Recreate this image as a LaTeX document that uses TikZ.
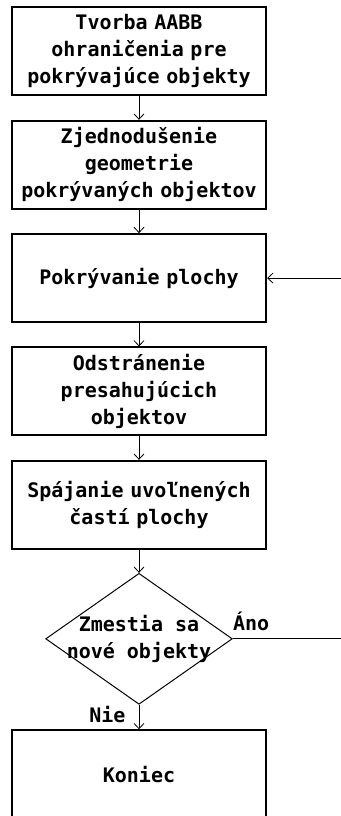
\documentclass[tikz,border=0pt]{standalone}
\usepackage{fontspec}
\setmonofont{DejaVu Sans Mono}
\usetikzlibrary{arrows.meta,shapes.geometric,positioning}

\begin{document}
\begin{tikzpicture}
        \tikzstyle{krok} = [rectangle, draw=black, line width=1.5pt, minimum width=190.5pt, minimum height=66pt, text width=184pt, align=center, font=\ttfamily\bfseries\fontsize{15}{20.25}\selectfont]
        \tikzstyle{rozhodnutie} = [diamond, draw=black, line width=0.75pt, minimum width=140pt, minimum height=98.25pt, inner sep=0pt]
        \tikzstyle{popis} = [inner sep=0pt, font=\ttfamily\bfseries\fontsize{15}{20.25}\selectfont]
        \tikzstyle{sipka} = [-{Straight Barb[length=4pt,width=7.5pt]}, line width=0.6pt]
        \useasboundingbox (0,0) rectangle (255.75pt,-612pt);

        \node (tvorba) [krok] at (104.25pt,-38.6pt) {Tvorba AABB ohraničenia pre pokrývajúce objekty};
        \node (zjednodusenie) [krok, below of=tvorba, node distance=85pt] {Zjednodušenie geometrie pokrývaných objektov};
        \node (pokryvanie) [krok, below of=zjednodusenie, node distance=85pt] {Pokrývanie plochy};
        \node (odstranenie) [krok, below of=pokryvanie, node distance=85pt] {Odstránenie presahujúcich objektov};
        \node (spajanie) [krok, below of=odstranenie, node distance=85pt] {Spájanie uvoľnených častí plochy};
        \node (zmestia) [rozhodnutie, below of=spajanie, node distance=100.5pt,
            label={[popis, align=center]center:Zmestia sa\\nové objekty}] {};
        \node (koniec) [krok, below of=zmestia, node distance=101.6pt] {Koniec};

        \node (ano) [popis, above right=5.5pt and 0pt of zmestia.east] {Áno};
        \node (nie) [popis, below left=0.5pt and 10pt of zmestia.south] {Nie};

        \coordinate (ano_koniec) at (255.75pt,0 |- zmestia.east);
        \coordinate (spat) at (255.75pt,0 |- pokryvanie.east);

        \draw[sipka] (tvorba) -- (zjednodusenie);
        \draw[sipka] (zjednodusenie) -- (pokryvanie);
        \draw[sipka] (pokryvanie) -- (odstranenie);
        \draw[sipka] (odstranenie) -- (spajanie);
        \draw[sipka] (spajanie) -- (zmestia);
        \draw[sipka] (zmestia) -- (koniec);
        \draw[line width=0.6pt] (zmestia.east) -- (ano_koniec);
        \draw[sipka] (spat) -- (pokryvanie);
    \end{tikzpicture}
\end{document}
